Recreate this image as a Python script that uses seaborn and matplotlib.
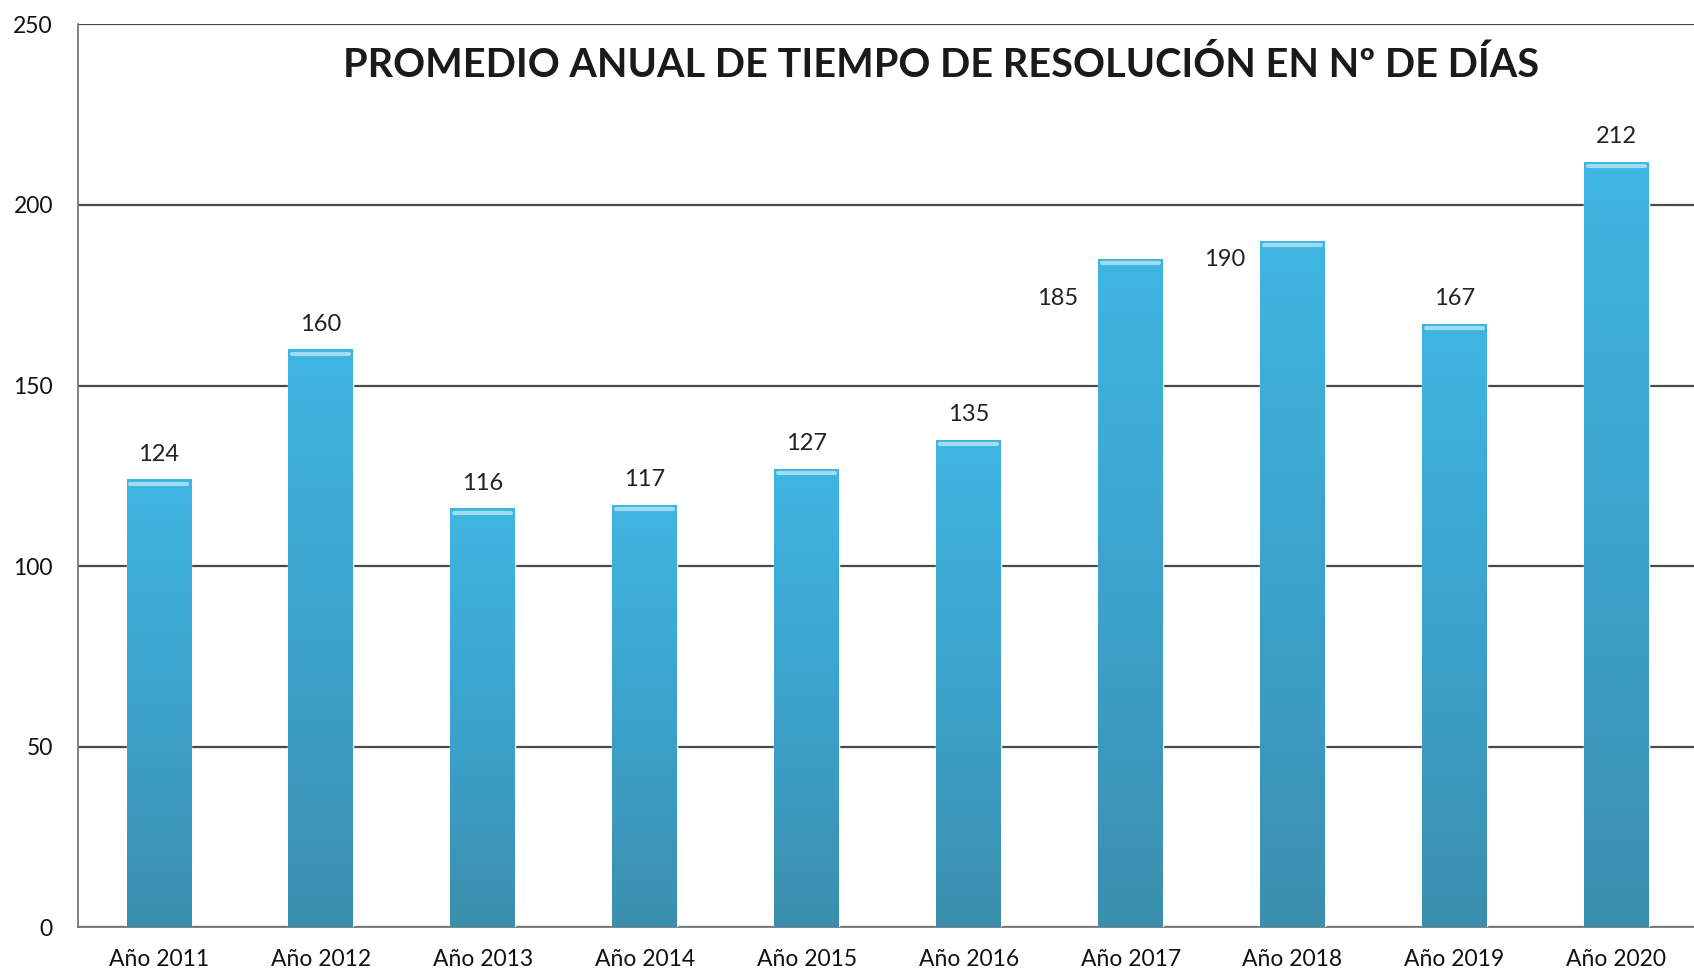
import matplotlib
matplotlib.use("Agg")
import matplotlib.pyplot as plt
import numpy as np
import pandas as pd
import seaborn as sns
from matplotlib.colors import LinearSegmentedColormap

years = ["Año 2011", "Año 2012", "Año 2013", "Año 2014", "Año 2015",
         "Año 2016", "Año 2017", "Año 2018", "Año 2019", "Año 2020"]
dias = [124, 160, 116, 117, 127, 135, 185, 190, 167, 212]
title = "PROMEDIO ANUAL DE TIEMPO DE RESOLUCIÓN EN Nº DE DÍAS"

df = pd.DataFrame({"anio": years, "dias": dias})

sns.set_style("white")
plt.rcParams["font.family"] = ["Lato", "DejaVu Sans"]

fig = plt.figure(figsize=(16.94, 9.74), dpi=100)
ax = fig.add_axes([0.046, 0.048, 0.956, 0.927])

sns.barplot(data=df, x="anio", y="dias", color="#3aa6d4", width=0.4,
            saturation=1, ax=ax, zorder=3)

ax.set_ylim(0, 250)
ax.set_xlim(-0.5, len(years) - 0.5)
ax.set_yticks(range(0, 251, 50))
ax.yaxis.grid(True, color="#4a4a4a", linewidth=1.6, zorder=0)
ax.set_axisbelow(True)

# gradient fill, light cyan at top to darker teal at bottom
cmap = LinearSegmentedColormap.from_list("bar", ["#3b8fae", "#3ba3cc", "#3fb6e2"])
grad = np.linspace(0, 1, 256).reshape(-1, 1)
for bar in ax.patches:
    x0, y0 = bar.get_x(), bar.get_y()
    w, h = bar.get_width(), bar.get_height()
    im = ax.imshow(grad, cmap=cmap, aspect="auto", origin="lower",
                   extent=[x0, x0 + w, y0, y0 + h], zorder=4)
    im.set_clip_path(bar)
    ax.plot([x0 + w * 0.06, x0 + w * 0.94], [y0 + h - 1.2, y0 + h - 1.2],
            color="#9fdcf2", linewidth=3, zorder=5, solid_capstyle="round")
ax.set_xlim(-0.5, len(years) - 0.5)
ax.set_ylim(0, 250)

label_shift = {"Año 2017": (-0.45, -18), "Año 2018": (-0.42, -12)}
for i, (yr, v) in enumerate(zip(years, dias)):
    dx, dy = label_shift.get(yr, (0, 0))
    ax.text(i + dx, v + 7 + dy, str(v), ha="center", va="center",
            fontsize=17, color="#222222", zorder=6)

ax.text(0.533, 0.976, title, transform=ax.transAxes, ha="center", va="top",
        fontsize=28.5, fontweight="bold", color="#1a1a1a")

for side in ["top", "right"]:
    ax.spines[side].set_visible(False)
ax.spines["left"].set_color("#777777")
ax.spines["bottom"].set_color("#777777")
ax.spines["left"].set_linewidth(1.3)
ax.spines["bottom"].set_linewidth(1.3)

ax.set_xticks(np.arange(len(years)))
ax.set_xticklabels(years, fontsize=16.5, color="#111111")
ax.set_xticks(np.arange(len(years)) + 0.5, minor=True)
ax.tick_params(axis="x", which="major", length=0, pad=16)
ax.tick_params(axis="x", which="minor", length=8, color="#777777", width=1.3,
               direction="out")
ax.tick_params(axis="y", length=8, color="#777777", width=1.3, direction="out",
               labelsize=16.5, labelcolor="#111111", pad=10)
ax.set_xlabel("")
ax.set_ylabel("")

fig.savefig("out.png", dpi=100)
